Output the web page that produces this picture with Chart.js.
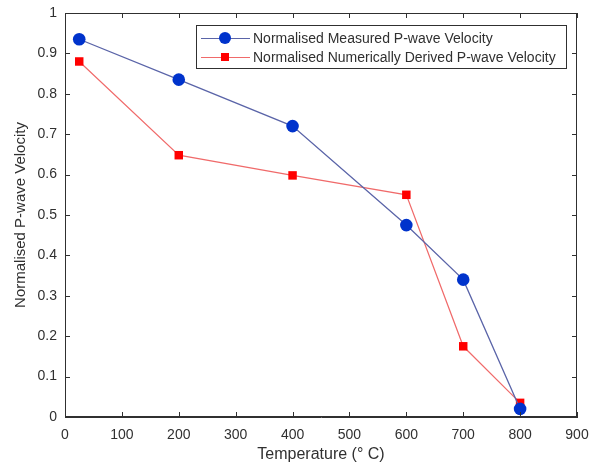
<!DOCTYPE html>
<html><head><meta charset="utf-8">
<script src="https://cdn.jsdelivr.net/npm/chart.js@4/dist/chart.umd.min.js"></script>
<style>html,body{margin:0;padding:0;background:#fff}#wrap{width:592px;height:468px}</style>
</head><body><div id="wrap"><canvas id="c" width="592" height="468"></canvas></div>
<script>
const temperatures = [25, 200, 400, 600, 700, 800];
const measured = [0.935, 0.835, 0.72, 0.475, 0.34, 0.02];
const derived = [0.88, 0.648, 0.598, 0.55, 0.175, 0.035];
const seriesNames = ['Normalised Measured P-wave Velocity', 'Normalised Numerically Derived P-wave Velocity'];
const xTitle = 'Temperature (\u00B0 C)';
const yTitle = 'Normalised P-wave Velocity';

const FONT = 'Liberation Sans, Arial, sans-serif';
const AX = '#303030';

const boxPlugin = {
  id: 'boxTicks',
  afterDraw(chart) {
    const {ctx, chartArea: a, scales: {x, y}} = chart;
    ctx.save();
    ctx.strokeStyle = AX; ctx.lineWidth = 1;
    ctx.strokeRect(a.left + 0.5, a.top + 0.5, a.right - a.left - 1, a.bottom - a.top - 1);
    const L = 5;
    ctx.beginPath();
    x.ticks.forEach(t => { const px = Math.round(x.getPixelForValue(t.value)) + 0.5;
      ctx.moveTo(px, a.bottom); ctx.lineTo(px, a.bottom - L);
      ctx.moveTo(px, a.top); ctx.lineTo(px, a.top + L); });
    y.ticks.forEach(t => { const py = Math.round(y.getPixelForValue(t.value)) + 0.5;
      ctx.moveTo(a.left, py); ctx.lineTo(a.left + L, py);
      ctx.moveTo(a.right, py); ctx.lineTo(a.right - L, py); });
    ctx.stroke();
    // legend
    const lx = 196, ly = 25, lw = 370, lh = 43;
    ctx.fillStyle = '#fff'; ctx.fillRect(lx, ly, lw, lh);
    ctx.strokeStyle = AX; ctx.strokeRect(lx + 0.5, ly + 0.5, lw, lh);
    const ds = chart.data.datasets;
    [38, 57].forEach((yy, i) => {
      const d = ds[i];
      ctx.strokeStyle = d.borderColor; ctx.lineWidth = 1;
      ctx.beginPath(); ctx.moveTo(201, yy + 0.5); ctx.lineTo(250, yy + 0.5); ctx.stroke();
      ctx.fillStyle = d.pointBackgroundColor;
      if (i === 0) { ctx.beginPath(); ctx.arc(225, yy, 6, 0, Math.PI * 2); ctx.fill(); }
      else { ctx.fillRect(221, yy - 4, 8, 8); }
      ctx.fillStyle = AX; ctx.font = '14px ' + FONT; ctx.textBaseline = 'middle'; ctx.textAlign = 'left';
      ctx.fillText(seriesNames[i], 253, yy + 1);
    });
    ctx.restore();
  }
};

new Chart(document.getElementById('c'), {
  type: 'scatter',
  data: {
    datasets: [
      { label: seriesNames[0], data: temperatures.map((t, i) => ({x: t, y: measured[i]})),
        showLine: true, borderColor: '#5a64a8', borderWidth: 1.3, pointStyle: 'circle', pointRadius: 6.3,
        pointBackgroundColor: '#0033cc', pointBorderColor: '#0033cc', pointBorderWidth: 0 },
      { label: seriesNames[1], data: temperatures.map((t, i) => ({x: t, y: derived[i]})),
        showLine: true, borderColor: '#f06a6a', borderWidth: 1.2, pointStyle: 'rect', pointRadius: 6,
        pointBackgroundColor: '#ff0000', pointBorderColor: '#ff0000', pointBorderWidth: 0 }
    ]
  },
  options: {
    responsive: false, animation: false, devicePixelRatio: 1,
    layout: { padding: { top: 13, right: 15, left: 0, bottom: 0 } },
    plugins: { legend: { display: false }, tooltip: { enabled: false } },
    scales: {
      x: { type: 'linear', min: 0, max: 900,
        ticks: { stepSize: 100, color: AX, font: { family: FONT, size: 14 }, padding: 10, maxRotation: 0 },
        grid: { display: false, drawTicks: false }, border: { color: AX },
        title: { display: true, text: xTitle, color: AX, font: { family: FONT, size: 16 }, padding: { top: 8 } },
        afterFit(s) { s.height = 51; s.paddingLeft = 0; s.paddingRight = 0; } },
      y: { type: 'linear', min: 0, max: 1,
        ticks: { stepSize: 0.1, color: AX, font: { family: FONT, size: 14 }, padding: 8,
          callback: v => String(Math.round(v * 10) / 10) },
        grid: { display: false, drawTicks: false }, border: { color: AX },
        title: { display: true, text: yTitle, color: AX, font: { family: FONT, size: 15 }, padding: { top: 12, bottom: 6 } },
        afterFit(s) { s.width = 65; s.paddingTop = 0; s.paddingBottom = 0; } }
    }
  },
  plugins: [boxPlugin]
});
</script></body></html>
